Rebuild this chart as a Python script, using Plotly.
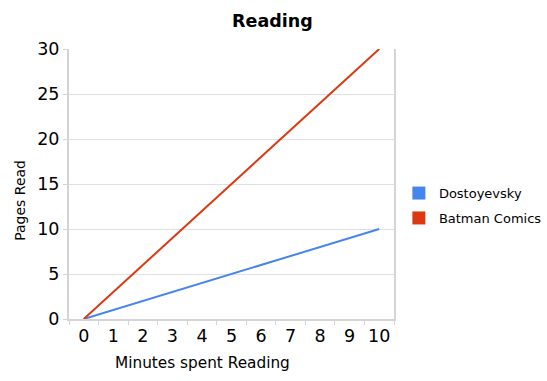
import plotly.graph_objects as go

minutes = ["0", "1", "2", "3", "4", "5", "6", "7", "8", "9", "10"]
dostoyevsky = [0, 1, 2, 3, 4, 5, 6, 7, 8, 9, 10]
batman = [0, 3, 6, 9, 12, 15, 18, 21, 24, 27, 30]
series_names = ["Dostoyevsky", "Batman Comics"]
colors = ["#4684ee", "#dc3912"]
x_title = "Minutes spent Reading"
y_title = "Pages Read"

FONT = "DejaVu Sans"
fig = go.Figure()
for name, vals, c in zip(series_names, [dostoyevsky, batman], colors):
    fig.add_trace(go.Scatter(x=minutes, y=vals, mode="lines", name=name,
                             line=dict(color=c, width=2), showlegend=False,
                             hoverinfo="x+y+name"))
for i, (name, c) in enumerate(zip(series_names, colors)):
    fig.add_trace(go.Scatter(x=[None], y=[None], mode="markers", name=name,
                             legendgroup=f"g{i}",
                             marker=dict(symbol="square", size=13, color=c)))

fig.update_layout(
    width=547, height=381,
    margin=dict(l=69, r=153, t=49, b=62, autoexpand=False),
    paper_bgcolor="white", plot_bgcolor="white",
    font=dict(family=FONT, color="#000"),
    title=dict(text="<b>Reading</b>", font=dict(size=17.5, family=FONT),
               x=0.498, xanchor="center", xref="container", y=1 - 21 / 381,
               yanchor="middle", yref="container"),
    showlegend=True,
    legend=dict(x=1.015, xanchor="left", y=0.42, yanchor="middle",
                font=dict(size=13, family=FONT), traceorder="grouped",
                tracegroupgap=5, bgcolor="rgba(0,0,0,0)"),
    xaxis=dict(type="category", categoryorder="array", categoryarray=minutes,
               range=[-0.5, 10.5], showgrid=False, showline=True,
               linecolor="#d4d4d4", linewidth=2, ticks="outside",
               tickson="boundaries", ticklen=4, tickcolor="#d4d4d4",
               tickfont=dict(size=17.5), tickangle=0),
    yaxis=dict(range=[0, 30], dtick=5, showgrid=True, gridcolor="#e0e0e0",
               gridwidth=1, zeroline=False, showline=True, mirror=True,
               linecolor="#d4d4d4", linewidth=2, ticks="outside", ticklen=4,
               tickcolor="#d4d4d4", tickfont=dict(size=17.5)),
    annotations=[
        dict(text=x_title, xref="paper", yref="paper", x=0.411, y=-0.163,
             xanchor="center", yanchor="middle", showarrow=False,
             font=dict(size=15.3, family=FONT)),
        dict(text=y_title, xref="paper", yref="paper", x=-0.151, y=0.441,
             xanchor="center", yanchor="middle", showarrow=False,
             textangle=-90, font=dict(size=14, family=FONT)),
    ],
)
fig.write_html("out.html", config={"displayModeBar": False},
               post_script="document.body.style.margin='0';document.body.style.overflow='hidden';")
